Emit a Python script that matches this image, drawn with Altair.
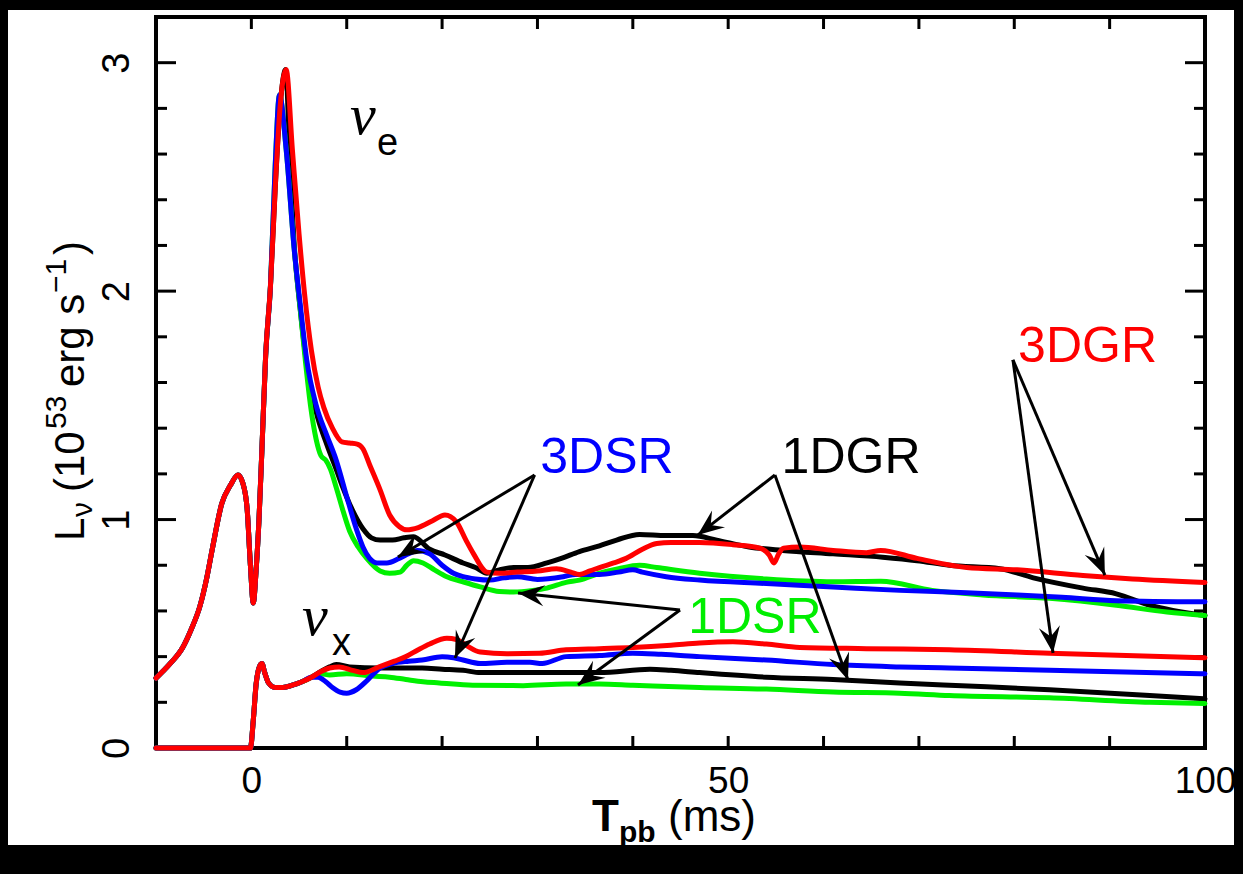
import math
import altair as alt
import pandas as pd

# ------------------------------------------------------------------ data
# nu_e, common pre-bounce part (ms, 1e53 erg/s)
nue_pre_t = [-10, -8.5, -7.2, -6.3, -5.4, -4.7, -4.1, -3.1, -2.2, -1.4, -0.9, -0.45, -0.1, 0.2, 0.5, 0.8, 1.1, 1.5, 2.0]
nue_pre_L = [0.306, 0.37, 0.44, 0.52, 0.62, 0.74, 0.87, 1.07, 1.15, 1.195, 1.16, 1.05, 0.80, 0.635, 0.78, 1.0, 1.3, 1.72, 2.02]

red_e_t = [2.5, 3.0, 3.65, 4.3, 5.0, 5.6, 6.3, 7.0, 7.6, 8.5, 9.5, 10.3, 11.1, 11.7, 12.4, 13.5, 14.5, 15.5, 16.3, 17.5, 19.0, 20.3, 21.5, 22.5, 23.3, 24.7, 26, 27.9, 30, 32, 33.5, 34.4, 35.5, 36.5, 38, 39.3, 41, 42.5, 44, 47, 50.5, 53.3, 54.3, 54.8, 55.3, 55.8, 57.5, 61, 64.5, 66, 69.8, 75, 80.3, 87.2, 92.4, 100]
red_e_L = [2.45, 2.80, 2.97, 2.62, 2.25, 1.98, 1.74, 1.58, 1.49, 1.40, 1.34, 1.335, 1.33, 1.31, 1.24, 1.13, 1.02, 0.97, 0.955, 0.965, 0.995, 1.02, 0.99, 0.91, 0.85, 0.77, 0.765, 0.77, 0.775, 0.785, 0.77, 0.76, 0.775, 0.79, 0.81, 0.83, 0.87, 0.895, 0.90, 0.90, 0.89, 0.875, 0.845, 0.81, 0.85, 0.875, 0.88, 0.865, 0.855, 0.865, 0.83, 0.79, 0.78, 0.755, 0.74, 0.725]

blue_e_t = [2.5, 2.95, 3.65, 4.5, 5.1, 5.8, 6.8, 7.9, 8.9, 10.0, 11.0, 11.7, 12.4, 13.2, 14.2, 15.5, 16.5, 17.4, 18.7, 20.0, 21.2, 22.2, 23.5, 25, 26.5, 27.9, 30, 32.7, 34, 36.5, 38.5, 40, 41, 43.5, 47, 54, 61, 68, 75, 80.3, 85, 90.7, 100]
blue_e_L = [2.55, 2.86, 2.62, 2.18, 1.95, 1.70, 1.50, 1.37, 1.26, 1.10, 0.96, 0.88, 0.83, 0.81, 0.81, 0.83, 0.85, 0.865, 0.85, 0.80, 0.765, 0.75, 0.74, 0.735, 0.745, 0.75, 0.738, 0.75, 0.76, 0.76, 0.77, 0.78, 0.77, 0.75, 0.735, 0.72, 0.705, 0.69, 0.68, 0.67, 0.66, 0.645, 0.64]

green_e_t = [2.5, 2.95, 3.65, 4.5, 5.1, 5.6, 6.2, 6.8, 7.3, 7.8, 8.3, 8.9, 9.6, 10.3, 11.2, 12.1, 13.5, 14.5, 15.6, 16.3, 17.0, 18.0, 19.2, 20.5, 22, 24, 26, 27.5, 29.5, 31, 33, 34.4, 36.5, 38.5, 40.7, 42.5, 47, 54, 61, 66, 71.4, 76.7, 83.7, 90.7, 96, 100]
green_e_L = [2.55, 2.86, 2.62, 2.18, 1.93, 1.72, 1.50, 1.35, 1.28, 1.26, 1.22, 1.14, 1.04, 0.95, 0.88, 0.83, 0.775, 0.765, 0.77, 0.80, 0.82, 0.81, 0.78, 0.75, 0.73, 0.705, 0.685, 0.683, 0.69, 0.70, 0.725, 0.735, 0.765, 0.785, 0.80, 0.79, 0.765, 0.74, 0.728, 0.73, 0.69, 0.67, 0.655, 0.625, 0.595, 0.58]

black_e_t = [2.5, 3.0, 3.6, 4.0, 4.5, 5.1, 5.8, 6.8, 7.9, 8.9, 9.6, 10.5, 11.7, 12.6, 13.5, 14.8, 16.0, 17.0, 18.7, 20.3, 22.2, 23.5, 24.7, 26, 27.5, 29, 31, 32.5, 34.4, 36.5, 38.3, 40.7, 43.5, 46.3, 48.8, 52.2, 55.7, 61, 66.2, 69.8, 73.2, 78.5, 82, 87.2, 90.7, 94.2, 100]
black_e_L = [2.45, 2.80, 2.97, 2.62, 2.20, 1.93, 1.68, 1.47, 1.33, 1.22, 1.14, 1.05, 0.96, 0.92, 0.91, 0.91, 0.92, 0.925, 0.87, 0.845, 0.81, 0.79, 0.765, 0.78, 0.79, 0.79, 0.81, 0.83, 0.86, 0.885, 0.91, 0.935, 0.93, 0.93, 0.91, 0.88, 0.865, 0.85, 0.835, 0.82, 0.80, 0.785, 0.745, 0.70, 0.675, 0.625, 0.58]

# nu_x, common early part
nux_pre_t = [-10, -0.1, 0.2, 0.5, 0.8, 1.1, 1.4, 1.8, 2.5, 3.3, 4.3, 5.3, 6.3]
nux_pre_L = [0.0, 0.0, 0.12, 0.28, 0.35, 0.37, 0.33, 0.285, 0.265, 0.265, 0.275, 0.29, 0.31]

red_x_t = [7.3, 8.2, 9.2, 10.6, 11.7, 13.4, 15, 16.2, 17.5, 18.7, 20.5, 21.5, 22.5, 24, 26.8, 30.2, 33, 36.5, 40, 44, 47, 50.5, 54, 57.5, 64.5, 73.2, 83.7, 100]
red_x_L = [0.335, 0.35, 0.355, 0.34, 0.33, 0.355, 0.38, 0.40, 0.43, 0.455, 0.48, 0.475, 0.45, 0.42, 0.413, 0.415, 0.43, 0.435, 0.44, 0.45, 0.46, 0.465, 0.455, 0.44, 0.435, 0.43, 0.415, 0.395]

blue_x_t = [7.0, 7.8, 8.5, 9.3, 10, 11.0, 12.0, 12.7, 13.5, 14.8, 16.5, 17.9, 20, 21.2, 22.2, 24, 26.8, 29.2, 30.5, 33, 36.5, 40, 43, 47, 54, 61, 68, 73.2, 83.7, 100]
blue_x_L = [0.31, 0.29, 0.265, 0.245, 0.24, 0.255, 0.29, 0.32, 0.35, 0.37, 0.38, 0.385, 0.40, 0.395, 0.385, 0.37, 0.375, 0.375, 0.37, 0.40, 0.405, 0.415, 0.41, 0.40, 0.385, 0.365, 0.355, 0.35, 0.34, 0.325]

black_x_t = [7.3, 8.2, 8.9, 10.3, 13.5, 17.9, 20, 22.2, 24, 28, 32.3, 36.5, 41.8, 44, 47, 54, 61, 68, 73.2, 83.7, 94.2, 100]
black_x_L = [0.335, 0.355, 0.365, 0.355, 0.35, 0.35, 0.345, 0.34, 0.33, 0.33, 0.33, 0.33, 0.345, 0.34, 0.33, 0.31, 0.30, 0.285, 0.275, 0.255, 0.23, 0.215]

green_x_t = [7.3, 8.2, 10, 12.7, 14.5, 16.2, 18, 19.7, 23.2, 28.5, 33, 36.5, 40, 47, 54, 61, 68, 73.2, 83.7, 94.2, 100]
green_x_L = [0.325, 0.32, 0.325, 0.315, 0.31, 0.30, 0.29, 0.285, 0.275, 0.273, 0.28, 0.28, 0.275, 0.265, 0.258, 0.245, 0.24, 0.23, 0.22, 0.20, 0.195]

models = ["1DGR", "1DSR", "3DSR", "3DGR"]          # draw order
model_colors = ["#000000", "#00f000", "#0000ff", "#ff0000"]

# annotation labels (data coordinates)
label_text = ["3DSR", "1DGR", "1DSR", "3DGR"]
label_t = [30.3, 55.6, 45.8, 80.4]
label_L = [1.204, 1.204, 0.503, 1.69]
label_color = ["#0000ff", "#000000", "#00ee00", "#ff0000"]

# arrows: origin -> tip (data coordinates)
arrow_t0 = [29.7, 29.7, 54.9, 54.9, 44.95, 44.95, 79.86, 79.86]
arrow_L0 = [1.195, 1.195, 1.195, 1.195, 0.604, 0.604, 1.699, 1.699]
arrow_t1 = [15.37, 21.35, 46.8, 62.56, 27.96, 34.25, 89.5, 84.06]
arrow_L1 = [0.836, 0.394, 0.932, 0.298, 0.679, 0.276, 0.757, 0.416]

# flavour labels
nu_t = [10.34, 5.31]
nu_L = [2.69, 0.495]
nu_sub = ["e", "x"]
nu_sub_t = [13.17, 8.45]
nu_sub_L = [2.596, 0.407]

x_tick_minor = [0, 10, 20, 30, 40, 50, 60, 70, 80, 90, 100]
y_tick_major = [0, 1, 2, 3]
y_tick_minor = [0.2, 0.4, 0.6, 0.8, 1.2, 1.4, 1.6, 1.8, 2.2, 2.4, 2.6, 2.8, 3.2]

# ------------------------------------------------------------------ layout
W, H = 1049, 731
FONT = "Liberation Sans"
xs = alt.Scale(domain=[-10, 100], nice=False, zero=False)
ys = alt.Scale(domain=[0, 3.2], nice=False, zero=False)

X_AX = alt.Axis(values=[0, 50, 100], ticks=False, tickSize=0, domain=False, grid=False,
                title=None, labelFontSize=37, labelFont=FONT, labelColor="black",
                labelPadding=15, labelBaseline="top", labelAngle=0, labelFlush=False,
                labelOverlap=False, zindex=5)
Y_AX = alt.Axis(values=[0, 1, 2, 3], ticks=False, tickSize=0, domain=False, grid=False,
                title=None, labelFontSize=38, labelFont=FONT, labelColor="black",
                labelPadding=28, labelAngle=270, labelAlign="center",
                labelBaseline="alphabetic", labelFlush=False, labelOverlap=False, zindex=5)


def X(field):
    return alt.X(field, type="quantitative", scale=xs, axis=X_AX)


def Y(field):
    return alt.Y(field, type="quantitative", scale=ys, axis=Y_AX)


one = pd.DataFrame({"a": [0]})

bg = alt.Chart(one).mark_rect(color="white").encode(
    x=alt.value(-148), x2=alt.value(1078), y=alt.value(-7), y2=alt.value(828))

frame = alt.Chart(one).mark_rect(fillOpacity=0, stroke="black", strokeWidth=4).encode(
    x=alt.value(0), x2=alt.value(W), y=alt.value(0), y2=alt.value(H))

xt = pd.DataFrame({"t": x_tick_minor})
ytM = pd.DataFrame({"v": y_tick_major})
ytm = pd.DataFrame({"v": y_tick_minor})
TW = 3
ticks = [
    alt.Chart(xt).mark_rule(color="black", strokeWidth=TW).encode(x=X("t"), y=alt.value(H), y2=alt.value(H - 12)),
    alt.Chart(xt).mark_rule(color="black", strokeWidth=TW).encode(x=X("t"), y=alt.value(0), y2=alt.value(12)),
    alt.Chart(ytM).mark_rule(color="black", strokeWidth=TW).encode(y=Y("v"), x=alt.value(0), x2=alt.value(20)),
    alt.Chart(ytM).mark_rule(color="black", strokeWidth=TW).encode(y=Y("v"), x=alt.value(W), x2=alt.value(W - 20)),
    alt.Chart(ytm).mark_rule(color="black", strokeWidth=TW).encode(y=Y("v"), x=alt.value(0), x2=alt.value(11)),
    alt.Chart(ytm).mark_rule(color="black", strokeWidth=TW).encode(y=Y("v"), x=alt.value(W), x2=alt.value(W - 11)),
]

series = {
    "1DGR": [(nue_pre_t + black_e_t, nue_pre_L + black_e_L), (nux_pre_t + black_x_t, nux_pre_L + black_x_L)],
    "1DSR": [(nue_pre_t + green_e_t, nue_pre_L + green_e_L), (nux_pre_t + green_x_t, nux_pre_L + green_x_L)],
    "3DSR": [(nue_pre_t + blue_e_t, nue_pre_L + blue_e_L), (nux_pre_t + blue_x_t, nux_pre_L + blue_x_L)],
    "3DGR": [(nue_pre_t + red_e_t, nue_pre_L + red_e_L), (nux_pre_t + red_x_t, nux_pre_L + red_x_L)],
}

curves = []
for m, c in zip(models, model_colors):
    for k, (tt, LL) in enumerate(series[m]):
        df = pd.DataFrame({"t": tt, "L": LL, "i": range(len(tt))})
        curves.append(
            alt.Chart(df).mark_line(color=c, strokeWidth=5, interpolate="monotone",
                                    strokeCap="round", strokeJoin="round").encode(
                x=X("t"), y=Y("L"), order="i:Q"))

# arrows
pxx = W / 110.0
pxy = H / 3.2
ang = [(math.degrees(math.atan2(-(l1 - l0) * pxy, (t1 - t0) * pxx)) + 360) % 360
       for t0, l0, t1, l1 in zip(arrow_t0, arrow_L0, arrow_t1, arrow_L1)]
adf = pd.DataFrame({"t0": arrow_t0, "L0": arrow_L0, "t1": arrow_t1, "L1": arrow_L1, "ang": ang})
shafts = alt.Chart(adf).mark_rule(color="black", strokeWidth=3).encode(
    x=X("t0"), y=Y("L0"), x2="t1", y2="L1")
HEAD = "M0,0 L-2,-0.8 L-1.25,0 L-2,0.8 Z"
heads = alt.Chart(adf).mark_point(shape=HEAD, filled=True, color="black", size=700, opacity=1).encode(
    x=X("t1"), y=Y("L1"), angle=alt.Angle("ang:Q", scale=None))

ldf = pd.DataFrame({"t": label_t, "L": label_L, "txt": label_text, "col": label_color})
labels = alt.Chart(ldf).mark_text(font=FONT, fontSize=50, align="left", baseline="alphabetic").encode(
    x=X("t"), y=Y("L"), text="txt:N", color=alt.Color("col:N", scale=None))

nudf = pd.DataFrame({"t": nu_t, "L": nu_L, "txt": ["\u03bd", "\u03bd"]})
nus = alt.Chart(nudf).mark_text(font="Liberation Serif", fontStyle="italic", fontSize=58,
                                align="left", baseline="alphabetic", color="black").encode(
    x=X("t"), y=Y("L"), text="txt:N")
subdf = pd.DataFrame({"t": nu_sub_t, "L": nu_sub_L, "txt": nu_sub})
subs = alt.Chart(subdf).mark_text(font=FONT, fontSize=38, align="left", baseline="alphabetic",
                                  color="black").encode(x=X("t"), y=Y("L"), text="txt:N")

# axis titles built from pieces (pixel layout, relative to plot origin)
title_layout = [
    # text, x, y, size, angle, weight
    ("L", -72, 524, 42, 270, "normal"),
    ("\u03bd", -64, 500, 30, 270, "normal"),
    ("(10", -72, 475, 42, 270, "normal"),
    ("53", -90, 412, 30, 270, "normal"),
    ("erg s", -72, 370, 42, 270, "normal"),
    ("\u22121", -90, 276, 30, 270, "normal"),
    (")", -72, 238, 42, 270, "normal"),
    ("T", 436, 814, 44, 0, "bold"),
    ("pb", 463, 825, 30, 0, "bold"),
    ("(ms)", 512, 814, 44, 0, "normal"),
]
titles = []
for txt, px, py, fs, an, fw in title_layout:
    titles.append(alt.Chart(one).mark_text(text=txt, font=FONT, fontSize=fs, angle=an, fontWeight=fw,
                                           align="left", baseline="alphabetic", color="black").encode(
        x=alt.value(px), y=alt.value(py)))

chart = alt.layer(bg, frame, *ticks, *curves, shafts, heads, labels, nus, subs, *titles).properties(
    width=W, height=H,
    autosize=alt.AutoSizeParams(type="none"),
    padding={"left": 156, "top": 17, "right": 38, "bottom": 126},
    background="black",
).configure_view(stroke=None)

chart.save("out.html", embed_options={"renderer": "svg", "actions": False})
